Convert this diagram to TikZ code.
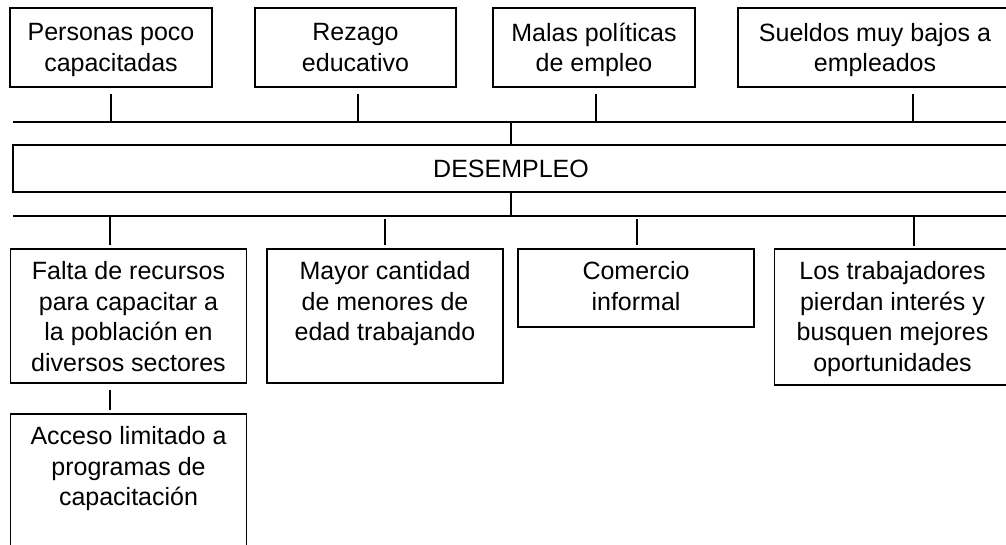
\documentclass[tikz,border=0pt]{standalone}
\usepackage{fontspec}
\setmainfont{Liberation Sans}
\usetikzlibrary{positioning,calc}

\begin{document}
\begin{tikzpicture}[x=0.5pt,y=-0.5pt,
  causa/.style={draw,line width=0.9pt,minimum width=101pt,minimum height=39.5pt,
    font=\fontsize{12.5pt}{15.25pt}\selectfont,align=center,inner sep=0pt,text depth=0pt},
  efecto/.style={draw,line width=0.9pt,minimum width=118pt,anchor=north,inner sep=0pt},
  etq/.style={font=\fontsize{12.5pt}{15.25pt}\selectfont,align=center,inner sep=0pt,anchor=north},
  con/.style={line width=0.7pt}
]
  \useasboundingbox (0,0) rectangle (1006,545);
  \clip (0,0) rectangle (1006,545);

  % Causas
  \node[causa] (per) at (111,47.5) {Personas poco\\capacitadas};
  \node[causa,minimum width=100.5pt] (rez) at (355.5,47.5) {Rezago\\educativo};
  \node[causa] (mal) at (594,47.5) {Malas políticas\\de empleo};
  \node[causa,minimum width=137pt] (sue) at (875,47.5) {Sueldos muy bajos a\\empleados};

  % Problema central
  \node[draw,line width=0.9pt,minimum width=498pt,minimum height=23.5pt,inner sep=0pt,
    font=\fontsize{12.5pt}{15.25pt}\selectfont] (des) at (511,168.5) {DESEMPLEO};
  \coordinate (cauL) at (13,122);
  \coordinate (cauR) at (1009,122);
  \coordinate (efeL) at (13,216);
  \coordinate (efeR) at (1009,216);
  \draw[con] (cauL) -- (cauR);
  \draw[con] (efeL) -- (efeR);

  % Efectos
  \node[efecto,minimum height=67pt] (fal) at (128.5,248) {};
  \node[etq] at ([yshift=-6.5pt]fal.north) {Falta de recursos\\para capacitar a\\la población en\\diversos sectores};
  \node[efecto,minimum height=67pt] (may) at (385,248) {};
  \node[etq] at ([yshift=-6.5pt]may.north) {Mayor cantidad\\de menores de\\edad trabajando};
  \node[efecto,minimum height=39pt] (com) at (636,248) {};
  \node[etq] at ([yshift=-6.5pt]com.north) {Comercio\\informal};
  \node[efecto,minimum height=68pt] (los) at (892.5,248) {};
  \node[etq] at ([yshift=-6.5pt]los.north) {Los trabajadores\\pierdan interés y\\busquen mejores\\oportunidades};
  \node[efecto,minimum height=75pt] (acc) at (128.5,413) {};
  \node[etq] at ([yshift=-6.5pt]acc.north) {Acceso limitado a\\programas de\\capacitación};

  % Conectores
  \draw[con,shorten <=3pt] (per.south) -- (per.south |- cauL);
  \draw[con,shorten <=3pt] ([xshift=1.25pt]rez.south) -- ([xshift=1.25pt]rez.south |- cauL);
  \draw[con,shorten <=3pt] ([xshift=1pt]mal.south) -- ([xshift=1pt]mal.south |- cauL);
  \draw[con,shorten <=3pt] ([xshift=19pt]sue.south) -- ([xshift=19pt]sue.south |- cauL);
  \draw[con] (des.north) -- (des.north |- cauL);
  \draw[con] (des.south) -- (des.south |- efeL);
  \draw[con,shorten >=1.5pt] ([xshift=-9.25pt]fal.north |- efeL) -- ([xshift=-9.25pt]fal.north);
  \draw[con,shorten <=1.5pt,shorten >=1.5pt] (may.north |- efeL) -- (may.north);
  \draw[con,shorten <=1.5pt,shorten >=1.5pt] ([xshift=0.5pt]com.north |- efeL) -- ([xshift=0.5pt]com.north);
  \draw[con,shorten <=0.5pt,shorten >=1pt] ([xshift=10.75pt]los.north |- efeL) -- ([xshift=10.75pt]los.north);
  \draw[con,shorten <=3pt,shorten >=1.5pt] ([xshift=-9.25pt]fal.south) -- ([xshift=-9.25pt]acc.north);
\end{tikzpicture}
\end{document}
